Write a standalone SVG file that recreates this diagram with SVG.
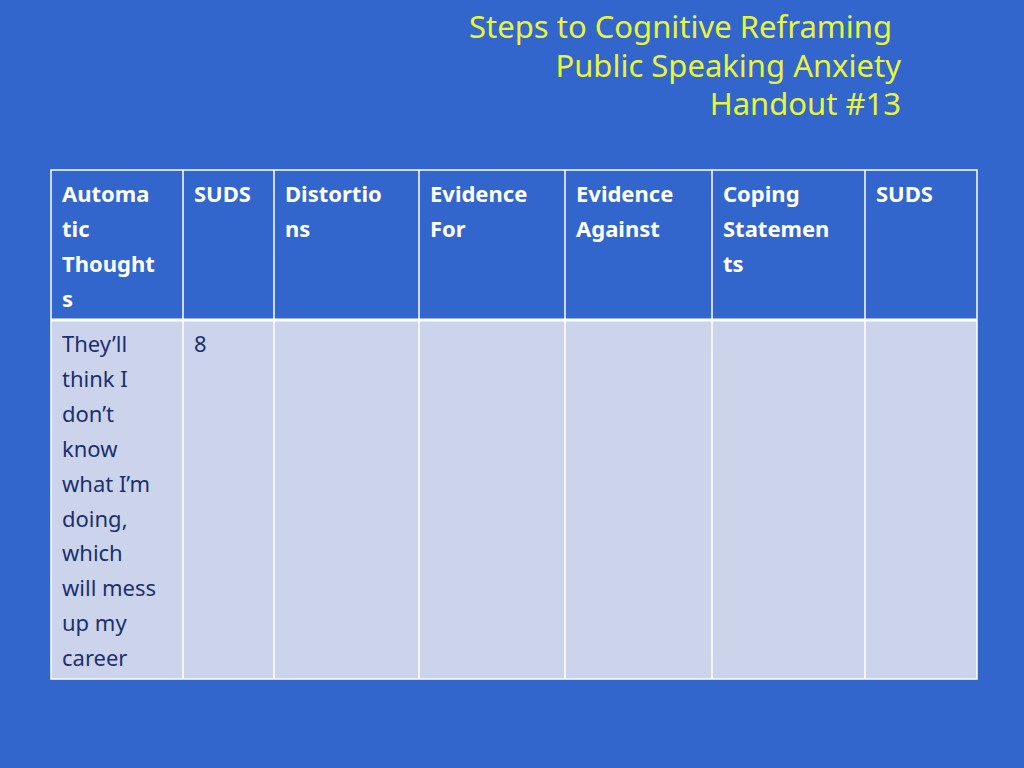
<svg xmlns="http://www.w3.org/2000/svg" width="1024" height="768" viewBox="0 0 1024 768">
<style>
.t{font-family:"Noto Sans","DejaVu Sans",sans-serif;font-size:31px;fill:#e8f53a;text-anchor:end}
.h{font-family:"Noto Sans","DejaVu Sans",sans-serif;font-size:22px;font-weight:bold;fill:#ffffff}
.b{font-family:"Noto Sans","DejaVu Sans",sans-serif;font-size:22px;fill:#1c2f6e}
.g{stroke:#ffffff;stroke-width:1.5;fill:none}
</style>
<rect width="1024" height="768" fill="#3366cc"/>
<g id="title">
<text class="t" x="892" y="38">Steps to Cognitive Reframing</text>
<text class="t" x="901" y="77">Public Speaking Anxiety</text>
<text class="t" x="901" y="115">Handout #13</text>
</g>
<g id="table">
<rect x="51" y="170" width="926" height="150" fill="#3366cc"/>
<rect x="51" y="320" width="926" height="359" fill="#ccd4ec"/>
<rect class="g" x="51" y="170" width="926" height="509"/>
<path class="g" d="M183 170V679M274 170V679M419 170V679M565 170V679M712 170V679M865 170V679"/>
<line x1="51" y1="320" x2="977" y2="320" stroke="#ffffff" stroke-width="3"/>
<text class="h"><tspan x="62" y="202">Automa</tspan><tspan x="62" y="237">tic</tspan><tspan x="62" y="272">Thought</tspan><tspan x="62" y="307">s</tspan></text>
<text class="h" x="194" y="202">SUDS</text>
<text class="h"><tspan x="285" y="202">Distortio</tspan><tspan x="285" y="237">ns</tspan></text>
<text class="h"><tspan x="430" y="202">Evidence</tspan><tspan x="430" y="237">For</tspan></text>
<text class="h"><tspan x="576" y="202">Evidence</tspan><tspan x="576" y="237">Against</tspan></text>
<text class="h"><tspan x="723" y="202">Coping</tspan><tspan x="723" y="237">Statemen</tspan><tspan x="723" y="272">ts</tspan></text>
<text class="h" x="876" y="202">SUDS</text>
<text class="b"><tspan x="62" y="352">They’ll</tspan><tspan x="62" y="387">think I</tspan><tspan x="62" y="422">don’t</tspan><tspan x="62" y="457">know</tspan><tspan x="62" y="492">what I’m</tspan><tspan x="62" y="527">doing,</tspan><tspan x="62" y="561">which</tspan><tspan x="62" y="596">will mess</tspan><tspan x="62" y="631">up my</tspan><tspan x="62" y="666">career</tspan></text>
<text class="b" x="194" y="352">8</text>
</g>
</svg>
